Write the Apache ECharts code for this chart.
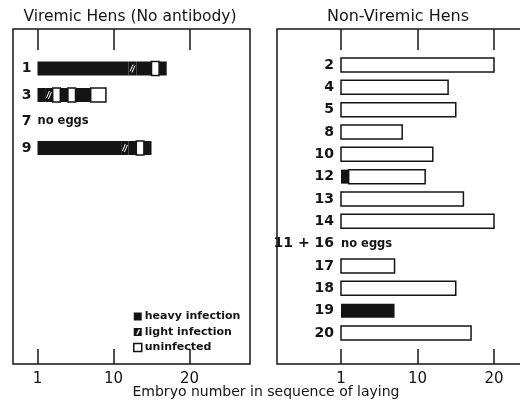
<!DOCTYPE html>
<html><head><meta charset="utf-8">
<script src="https://cdn.jsdelivr.net/npm/echarts@6/dist/echarts.min.js"></script>
<style>html,body{margin:0;padding:0;background:#fff}#c{width:520px;height:403px}</style>
</head><body><div id="c"></div>
<script>
// ---- data ----
const viremicHens = ['1', '3', '7', '9'];
// H = heavy infection, L = light infection, U = uninfected; one letter per embryo in laying order
const viremicSeq = ['HHHHHHHHHHHHLHHUH', 'HLUHUHHUU', '', 'HHHHHHHHHHHLHUH'];
const nonViremicHens = ['2', '4', '5', '8', '10', '12', '13', '14', '11 + 16', '17', '18', '19', '20'];
const nonViremicSeq = [
  'UUUUUUUUUUUUUUUUUUUU',
  'UUUUUUUUUUUUUU',
  'UUUUUUUUUUUUUUU',
  'UUUUUUUU',
  'UUUUUUUUUUUU',
  'HUUUUUUUUUU',
  'UUUUUUUUUUUUUUUU',
  'UUUUUUUUUUUUUUUUUUUU',
  '',
  'UUUUUUU',
  'UUUUUUUUUUUUUUU',
  'HHHHHHH',
  'UUUUUUUUUUUUUUUUU'
];
const tickValues = [0, 10, 20];
const tickLabels = ['1', '10', '20'];
const statusNames = { H: 'heavy infection', L: 'light infection', U: 'uninfected' };
const noEggsText = 'no eggs';
const panelTitles = ['Viremic Hens (No antibody)', 'Non-Viremic Hens'];
const axisTitle = 'Embryo number in sequence of laying';

// ---- styles ----
const INK = '#141414';
const FONT = 'DejaVu Sans';
const BAR_H = 14;

function buildRuns(seqs) {
  const out = { H: [], L: [], U: [] }, empty = [];
  seqs.forEach((s, row) => {
    if (!s.length) { empty.push([0, row]); return; }
    let start = 0;
    for (let i = 1; i <= s.length; i++) {
      if (i === s.length || s[i] !== s[start]) { out[s[start]].push([start, i, row]); start = i; }
    }
  });
  return { out, empty };
}

function makeRender(status) {
  return function (params, api) {
    const a = api.coord([api.value(0), api.value(2)]);
    const b = api.coord([api.value(1), api.value(2)]);
    const x = a[0], w = b[0] - a[0], y = a[1] - BAR_H / 2;
    if (status === 'U') {
      return { type: 'rect', shape: { x: x, y: y, width: w, height: BAR_H },
        style: { fill: '#fff', stroke: INK, lineWidth: 1.5 } };
    }
    if (status === 'H') {
      return { type: 'rect', shape: { x: x, y: y, width: w, height: BAR_H }, style: { fill: INK } };
    }
    const cx = x + w / 2;
    return { type: 'group', children: [
      { type: 'rect', shape: { x: x, y: y, width: w, height: BAR_H }, style: { fill: INK } },
      { type: 'line', shape: { x1: cx - 2.5, y1: a[1] + 3, x2: cx + 0.5, y2: a[1] - 4 }, style: { stroke: '#fff', lineWidth: 1 } },
      { type: 'line', shape: { x1: cx - 0.5, y1: a[1] + 4, x2: cx + 2.5, y2: a[1] - 3 }, style: { stroke: '#fff', lineWidth: 1 } }
    ] };
  };
}

function noEggsRender(params, api) {
  const c = api.coord([api.value(0), api.value(1)]);
  return { type: 'text', style: { text: noEggsText, x: c[0], y: c[1], verticalAlign: 'middle',
    fill: INK, font: 'bold 11.5px "' + FONT + '"' } };
}

function panelSeries(seqs, xi, yi) {
  const r = buildRuns(seqs);
  const list = ['U', 'H', 'L'].map(st => ({
    type: 'custom', name: statusNames[st], xAxisIndex: xi, yAxisIndex: yi,
    itemStyle: { color: st === 'U' ? '#fff' : INK },
    renderItem: makeRender(st), data: r.out[st], silent: true
  }));
  list.push({ type: 'custom', name: 'noeggs', xAxisIndex: xi, yAxisIndex: yi,
    renderItem: noEggsRender, data: r.empty, silent: true });
  return list;
}

// layout of the two panels
const L = { left: 13, width: 237, zeroX: 37.5, unit: 7.6 };
const R = { left: 277, width: 250, zeroX: 341, unit: 7.65 };
function ext(p) { return { min: (p.left - p.zeroX) / p.unit, max: (p.left + p.width - p.zeroX) / p.unit }; }
const LE = ext(L), RE = ext(R);
const FR_TOP = 29, FR_H = 335;

function frameX(grid, e, pos) {
  return {
    type: 'value', gridIndex: grid, position: pos, min: e.min, max: e.max,
    axisLine: { show: false, onZero: false }, splitLine: { show: false },
    axisTick: { show: true, inside: true, length: pos === 'top' ? 21 : 15, customValues: tickValues,
      lineStyle: { color: INK, width: 1.5 } },
    axisLabel: pos === 'top' ? { show: false } : {
      show: true, customValues: tickValues, margin: 8, color: INK, fontSize: 15, fontFamily: FONT,
      formatter: v => tickLabels[tickValues.indexOf(v)]
    }
  };
}
function hiddenX(grid, e) {
  return { type: 'value', gridIndex: grid, min: e.min, max: e.max, show: false, axisLine: { onZero: false } };
}
function catY(grid, cats, margin, offset) {
  return {
    type: 'category', gridIndex: grid, data: cats, inverse: true, offset: offset,
    axisLine: { show: false, onZero: false }, axisTick: { show: false }, splitLine: { show: false },
    axisLabel: { margin: margin, color: INK, fontSize: 14, fontWeight: 'bold', fontFamily: FONT }
  };
}

const LROW0 = 68.5, LSTEP = 26.5;
const RROW0 = 65, RSTEP = 22.33;

const option = {
  animation: false,
  backgroundColor: '#fff',
  title: [
    { text: panelTitles[0], left: 125, top: 4, textAlign: 'center',
      textStyle: { fontFamily: FONT, fontSize: 15.5, fontWeight: 'normal', color: INK } },
    { text: panelTitles[1], left: 393, top: 4, textAlign: 'center',
      textStyle: { fontFamily: FONT, fontSize: 16, fontWeight: 'normal', color: INK } },
    { text: axisTitle, left: 261, top: 380, textAlign: 'center',
      textStyle: { fontFamily: FONT, fontSize: 14, fontWeight: 'normal', color: INK } }
  ],
  legend: {
    orient: 'vertical', left: 128, top: 306, itemWidth: 8, itemHeight: 8, itemGap: 4.5,
    selectedMode: false,
    textStyle: { fontFamily: FONT, fontSize: 11, fontWeight: 'bold', color: INK, padding: [0, 0, 0, -2] },
    data: [
      { name: statusNames.H, icon: 'rect', itemStyle: { color: INK } },
      { name: statusNames.L, icon: 'path://M0,0H10V10H0Z M3,8L5,8L8,2L6,2Z', itemStyle: { color: INK } },
      { name: statusNames.U, icon: 'rect', itemStyle: { color: '#fff', borderColor: INK, borderWidth: 1.5 } }
    ]
  },
  grid: [
    { left: L.left, width: L.width, top: FR_TOP, height: FR_H, show: true, borderColor: INK, borderWidth: 1.5, outerBoundsMode: 'none' },
    { left: L.left, width: L.width, top: LROW0 - LSTEP / 2, height: LSTEP * viremicHens.length, outerBoundsMode: 'none' },
    { left: R.left, width: R.width, top: FR_TOP, height: FR_H, show: true, borderColor: INK, borderWidth: 1.5, outerBoundsMode: 'none' },
    { left: R.left, width: R.width, top: RROW0 - RSTEP / 2, height: RSTEP * nonViremicHens.length, outerBoundsMode: 'none' }
  ],
  xAxis: [
    frameX(0, LE, 'top'), frameX(0, LE, 'bottom'), hiddenX(1, LE),
    frameX(2, RE, 'top'), frameX(2, RE, 'bottom'), hiddenX(3, RE)
  ],
  yAxis: [
    { type: 'value', gridIndex: 0, show: false },
    catY(1, viremicHens, 6, -(L.zeroX - L.left)),
    { type: 'value', gridIndex: 2, show: false },
    catY(3, nonViremicHens, 7, -(R.zeroX - R.left))
  ],
  series: [].concat(panelSeries(viremicSeq, 2, 1), panelSeries(nonViremicSeq, 5, 3))
};

const chart = echarts.init(document.getElementById('c'), null, { renderer: 'canvas' });
chart.setOption(option);
</script>
</body></html>
